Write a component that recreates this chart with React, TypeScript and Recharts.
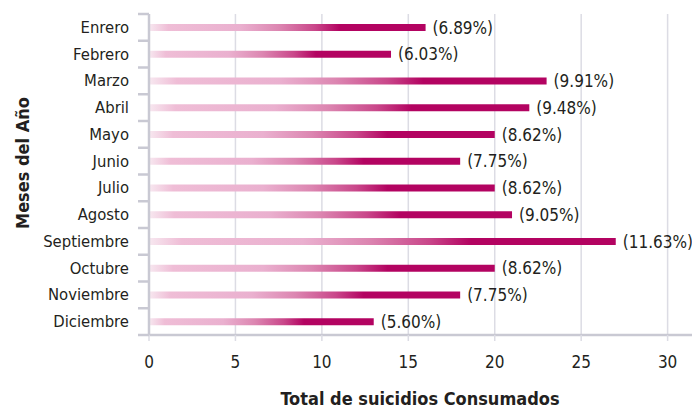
import React from 'react';
import { BarChart, Bar, XAxis, YAxis, CartesianGrid, LabelList, Label } from 'recharts';

const months = [
  'Enrero', 'Febrero', 'Marzo', 'Abril', 'Mayo', 'Junio',
  'Julio', 'Agosto', 'Septiembre', 'Octubre', 'Noviembre', 'Diciembre',
];
const totals = [16, 14, 23, 22, 20, 18, 20, 21, 27, 20, 18, 13];
const percents = [
  '(6.89%)', '(6.03%)', '(9.91%)', '(9.48%)', '(8.62%)', '(7.75%)',
  '(8.62%)', '(9.05%)', '(11.63%)', '(8.62%)', '(7.75%)', '(5.60%)',
];
const xTicks = [0, 5, 10, 15, 20, 25, 30];

const data = months.map((m, i) => ({ month: m, total: totals[i], pct: percents[i] }));

const FONT = '"Liberation Sans Narrow", "DejaVu Sans Condensed", "Roboto", sans-serif';
const TEXT = '#231f20';
const AXIS = '#c9c9d3';
const GRID = '#dcdce4';

// chart is a little wider than the page so the grid's closing edge line falls outside
const W = 697;
const H = 410;
const TOP = 14;
const X_AXIS_H = 75;
const BAND = (H - TOP - X_AXIS_H) / months.length;

const MonthTick = ({ x, y, payload, index }: any) => (
  <g>
    <text x={x - 20} y={y} textAnchor="end" dominantBaseline="central"
      fontFamily={FONT} fontSize={16.5} fill={TEXT}>
      {payload.value}
    </text>
    <line x1={x - 11} x2={x} y1={y - BAND / 2} y2={y - BAND / 2} stroke={AXIS} strokeWidth={2.5} />
    {index === months.length - 1 && (
      <line x1={x - 11} x2={x} y1={y + BAND / 2} y2={y + BAND / 2} stroke={AXIS} strokeWidth={2.5} />
    )}
  </g>
);

export default function App() {
  return (
    <div style={{ position: 'absolute', left: 0, top: 0, width: 692, height: H, overflow: 'hidden', background: '#fff' }}>
      <BarChart
        width={W}
        height={H}
        data={data}
        layout="vertical"
        margin={{ top: TOP, right: 0, bottom: 0, left: 0 }}
      >
        <defs>
          <linearGradient id="barGrad" x1="0" y1="0" x2="1" y2="0">
            <stop offset="0%" stopColor="#f7e8f0" />
            <stop offset="7%" stopColor="#efbdd6" />
            <stop offset="33%" stopColor="#eab0cf" />
            <stop offset="47%" stopColor="#dc86b1" />
            <stop offset="60%" stopColor="#c9478a" />
            <stop offset="69%" stopColor="#b30361" />
            <stop offset="100%" stopColor="#b30361" />
          </linearGradient>
        </defs>
        <CartesianGrid horizontal={false} stroke={GRID} strokeWidth={1.5} />
        <XAxis
          type="number"
          domain={[0, 31.7]}
          ticks={xTicks}
          height={X_AXIS_H}
          axisLine={{ stroke: AXIS, strokeWidth: 2.5 }}
          tickLine={{ stroke: GRID, strokeWidth: 1.5 }}
          tickSize={6}
          tickMargin={15}
          tick={{ fill: TEXT, fontSize: 17, fontFamily: FONT }}
        >
          <Label
            value="Total de suicidios Consumados"
            position="insideBottom"
            offset={5}
            dx={-3}
            style={{ fill: TEXT, fontSize: 18, fontWeight: 'bold', fontFamily: FONT }}
          />
        </XAxis>
        <YAxis
          type="category"
          dataKey="month"
          width={149}
          axisLine={{ stroke: AXIS, strokeWidth: 2.5 }}
          tickLine={false}
          tickSize={0}
          tickMargin={0}
          interval={0}
          tick={<MonthTick />}
        >
          <Label
            content={() => (
              <text x={22} y={163} transform="rotate(-90 22 163)" textAnchor="middle"
                dominantBaseline="central" fontFamily={FONT} fontSize={18}
                fontWeight="bold" fill={TEXT}>
                Meses del Año
              </text>
            )}
          />
        </YAxis>
        <Bar dataKey="total" fill="url(#barGrad)" barSize={7} isAnimationActive={false}>
          <LabelList dataKey="pct" position="right" offset={7}
            style={{ fill: TEXT, fontSize: 17, fontFamily: FONT }} />
        </Bar>
      </BarChart>
    </div>
  );
}
